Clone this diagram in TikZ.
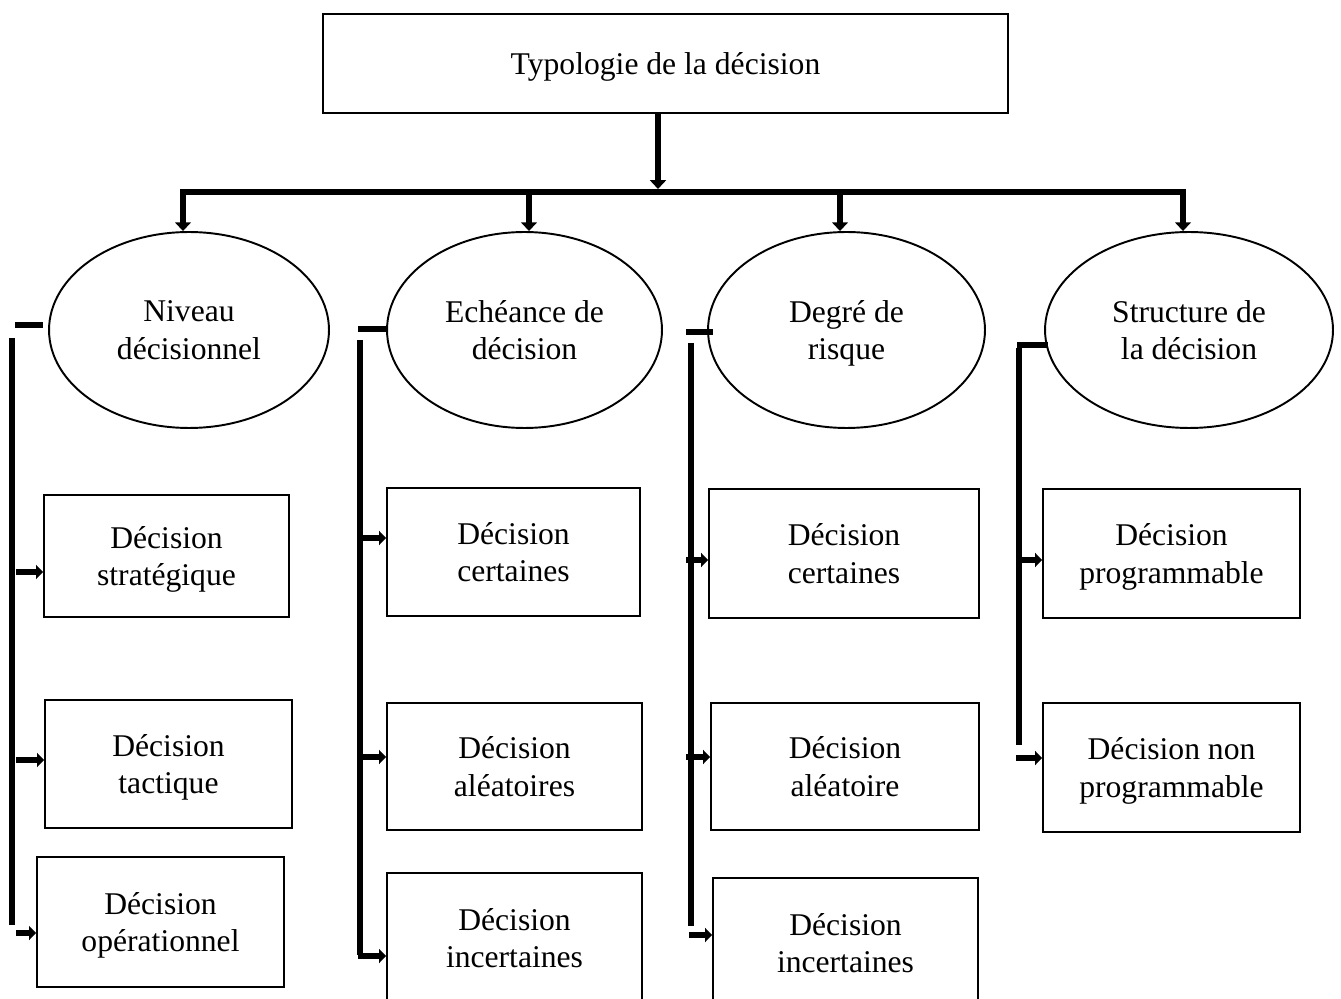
\documentclass[tikz,border=0pt]{standalone}
\usepackage{fontspec}
\setmainfont{Liberation Serif}
\usetikzlibrary{arrows.meta,shapes.geometric}
\tikzset{
  rootbox/.style={
    draw,
    line width=1.1pt,
    minimum width=13.7cm,
    minimum height=1.98cm,
    align=center
  },
  typebubble/.style={
    draw,
    ellipse,
    line width=1.1pt,
    minimum width=5.6cm,
    minimum height=3.92cm,
    inner sep=0pt,
    align=center
  },
  leafbox/.style={
    draw,
    line width=1.1pt,
    minimum height=2.56cm,
    inner sep=2pt,
    align=center
  },
  fork/.style={line width=3.4pt, line cap=rect},
  drop/.style={-{Triangle[width=9pt,length=5pt]}, line width=3.8pt},
  rail/.style={line width=3.8pt},
  stub/.style={line width=3pt},
  feed/.style={-{Triangle[width=8pt,length=4pt]}, line width=3.4pt}
}

\begin{document}
\begin{tikzpicture}[x=0.02cm, y=-0.02cm,
  every node/.style={font=\fontsize{18}{21.5}\selectfont, text depth=0pt}]
  \useasboundingbox (0,0) rectangle (1341,999);

  \node[rootbox] (root) at (665.5,63.5) {Typologie de la décision};

  \node[typebubble] (e1) at (189,330) {Niveau\\décisionnel};
  \node[typebubble, minimum width=5.5cm] (e2) at (524.5,330) {Echéance de\\décision};
  \node[typebubble, minimum width=5.54cm] (e3) at (846.5,330) {Degré de\\risque};
  \node[typebubble, minimum width=5.76cm] (e4) at (1189,330) {Structure de\\la décision};

  \node[leafbox, minimum width=4.9cm, minimum height=2.44cm] (c1b1) at (166.5,556) {Décision\\stratégique};
  \node[leafbox, minimum width=4.94cm] (c1b2) at (168.5,764) {Décision\\tactique};
  \node[leafbox, minimum width=4.94cm, minimum height=2.6cm] (c1b3) at (160.5,922) {Décision\\opérationnel};

  \node[leafbox, minimum width=5.06cm] (c2b1) at (513.5,552) {Décision\\certaines};
  \node[leafbox, minimum width=5.1cm, minimum height=2.54cm] (c2b2) at (514.5,766.5) {Décision\\aléatoires};
  \node[leafbox, minimum width=5.1cm, minimum height=2.6cm] (c2b3) at (514.5,938) {Décision\\incertaines};

  \node[leafbox, minimum width=5.4cm, minimum height=2.58cm] (c3b1) at (844,553.5) {Décision\\certaines};
  \node[leafbox, minimum width=5.36cm, minimum height=2.54cm] (c3b2) at (845,766.5) {Décision\\aléatoire};
  \node[leafbox, minimum width=5.3cm, minimum height=2.6cm] (c3b3) at (845.5,943) {Décision\\incertaines};

  \node[leafbox, minimum width=5.14cm, minimum height=2.58cm] (c4b1) at (1171.5,553.5) {Décision\\programmable};
  \node[leafbox, minimum width=5.14cm, minimum height=2.58cm] (c4b2) at (1171.5,767.5) {Décision non\\programmable};

  % fork under the root
  \coordinate (t) at (658,189);
  \coordinate (f1) at (183,192);
  \coordinate (f2) at (529,192);
  \coordinate (f3) at (840,192);
  \coordinate (f4) at (1183,192);
  \draw[drop] (t |- root.south) -- (t);
  \draw[fork] (f1) -- (f4);
  \foreach \i in {1,2,3,4}
    \draw[drop] (f\i) -- (f\i |- e\i.north);

  % rails on the left of each column
  \coordinate (s1) at (15,325);
  \coordinate (s1e) at (43,325);
  \coordinate (s2) at (358,329);
  \coordinate (s3) at (686,332);
  \coordinate (s4) at (1017,345);
  \draw[stub] (s1) -- (s1e);
  \draw[stub] (s2) -- (s2 -| e2.west);
  \draw[stub] (s3) -- (713,332);
  \draw[stub] (s4) -- (1048,345);

  \coordinate (r1t) at (12,338);
  \coordinate (r1b) at (12,925);
  \coordinate (r2t) at (360,340);
  \coordinate (r2b) at (360,955);
  \coordinate (r3t) at (691,343);
  \coordinate (r3b) at (691,926);
  \coordinate (r4t) at (1019,348);
  \coordinate (r4b) at (1019,745);
  \foreach \i in {1,2,3,4}
    \draw[rail] (r\i t) -- (r\i b);

  % arrows into the boxes
  \coordinate (a11) at (16,572);
  \coordinate (a12) at (16,760);
  \coordinate (a13) at (16,933);
  \coordinate (a21) at (360,538);
  \coordinate (a22) at (360,757);
  \coordinate (a23) at (358.1,956);
  \coordinate (a31) at (686,560);
  \coordinate (a32) at (686,757);
  \coordinate (a33) at (689,935);
  \coordinate (a41) at (1016,560);
  \coordinate (a42) at (1016,758);
  \foreach \c/\n in {1/3,2/3,3/3,4/2}
    \foreach \k in {1,...,\n}
      \draw[feed] (a\c\k) -- (a\c\k -| c\c b\k.west);
\end{tikzpicture}
\end{document}
